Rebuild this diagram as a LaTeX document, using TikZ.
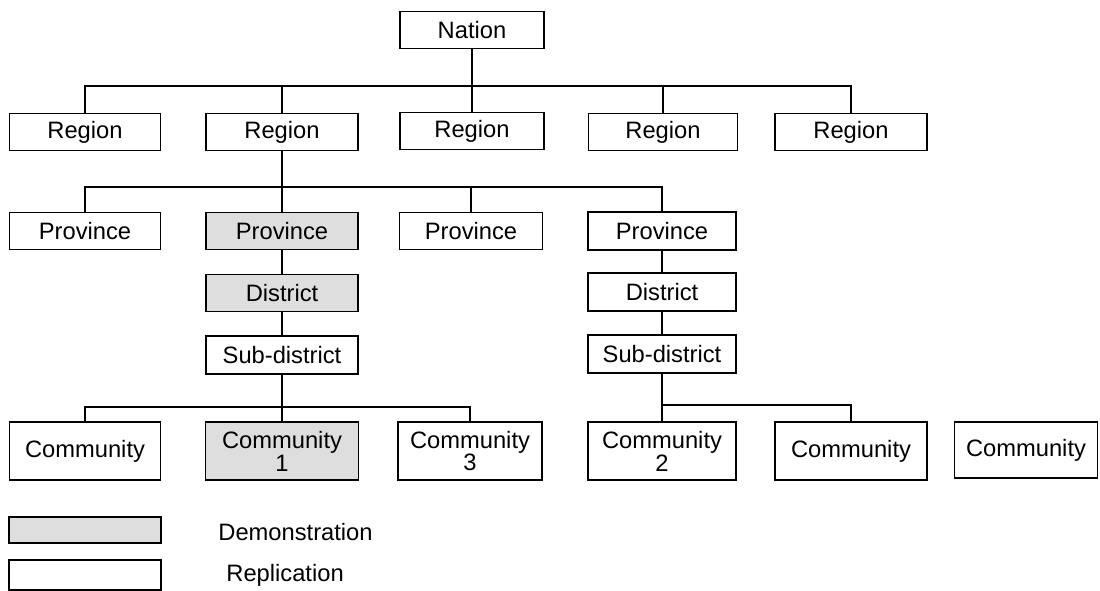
\documentclass[tikz,border=0pt]{standalone}
\usepackage{fontspec}
\setmainfont{Liberation Sans}
\usepackage{tikz}

\begin{document}
\begin{tikzpicture}[x=0.02cm, y=-0.02cm, line width=0.6pt,
    unit/.style={draw, rectangle, inner sep=0pt, minimum height=0.75cm,
      font=\fontsize{13.5}{15}\selectfont, align=center},
    demo/.style={unit, fill=black!13},
    repl/.style={unit, line width=1.3pt}]
            \useasboundingbox (0,0) rectangle (1100,591);

            % Nation and regions
            \node[unit, minimum width=2.88cm] (nation) at (472,30) {Nation};
            \node[unit, minimum width=3.02cm] (r1) at (85,132) {Region};
            \node[unit, minimum width=3.04cm] (r2) at (282,132) {Region};
            \node[unit, minimum width=2.88cm] (r3) at (472,131) {Region};
            \node[unit, minimum width=2.98cm] (r4) at (663,132) {Region};
            \node[unit, minimum width=3.04cm] (r5) at (851,132) {Region};

            % Provinces
            \node[unit, minimum width=3.02cm] (p1) at (85,231) {Province};
            \node[demo, minimum width=3.04cm] (p2) at (282,231) {Province};
            \node[unit, minimum width=2.86cm] (p3) at (471,231) {Province};
            \node[repl, minimum width=2.96cm] (p4) at (662,231) {Province};

            % Districts and sub-districts
            \node[demo, minimum width=3.04cm] (dl) at (282,293) {District};
            \node[repl, minimum width=2.96cm] (dr) at (662,292) {District};
            \node[repl, minimum width=3.04cm] (sdl) at (282,355) {Sub-district};
            \node[repl, minimum width=2.96cm] (sdr) at (662,354) {Sub-district};

            % Communities
            \node[unit, minimum width=3.02cm, minimum height=1.16cm] (c1) at (85,451) {Community};
            \node[demo, line width=0.6pt, minimum width=3.06cm, minimum height=1.16cm] (c2) at (282,451) {Community\\[-2pt]1};
            \node[repl, minimum width=2.88cm, minimum height=1.16cm] (c3) at (470,451) {Community\\[-2pt]3};
            \node[repl, minimum width=2.96cm, minimum height=1.16cm] (c4) at (662,451) {Community\\[-2pt]2};
            \node[unit, minimum width=3.04cm, minimum height=1.16cm] (c5) at (851,451) {Community};
            \node[unit, minimum width=2.86cm, minimum height=1.12cm] (c6) at (1026,450) {Community};

            % Bus levels
            \coordinate (bus1) at (0,86);
            \coordinate (bus2) at (0,187);
            \coordinate (bus3) at (0,407);
            \coordinate (bus4) at (0,405);

            % Connectors
            \draw (nation.south) -- (r3.north);
            \draw (r1.north) |- (bus1 -| r5.north) -- (r5.north);
            \draw (r2.north) -- (r2.north |- bus1);
            \draw (r4.north) -- (r4.north |- bus1);

            \draw (r2.south) -- (p2.north);
            \draw (p1.north) |- (bus2 -| p4.north) -- (p4.north);
            \draw (p3.north) -- (p3.north |- bus2);

            \draw (p2.south) -- (dl.north);
            \draw (dl.south) -- (sdl.north);
            \draw (p4.south) -- (dr.north);
            \draw (dr.south) -- (sdr.north);

            \draw (sdl.south) -- (c2.north);
            \draw (c1.north) |- (bus3 -| c3.north) -- (c3.north);
            \draw (sdr.south) -- (c4.north);
            \draw (c4.north |- bus4) -| (c5.north);

            % Legend
            \node[demo, minimum width=3.04cm, minimum height=0.52cm] (legdemo) at (85,530) {};
            \node[repl, minimum width=3.04cm, minimum height=0.6cm] (legrepl) at (85,575) {};
            \node[anchor=west, font=\fontsize{13.5}{15}\selectfont] (txtdemo) at (212,532) {Demonstration};
            \node[anchor=west, font=\fontsize{13.5}{15}\selectfont] (txtrepl) at (220,575) {Replication};
        \end{tikzpicture}
\end{document}
